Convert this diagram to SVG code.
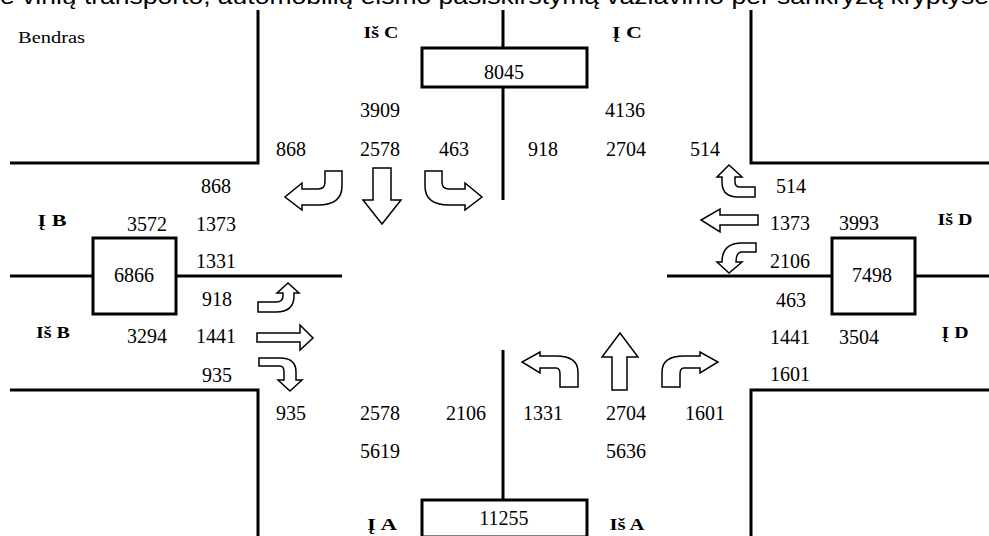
<svg xmlns="http://www.w3.org/2000/svg" width="989" height="536" viewBox="0 0 989 536">
<style>
.road{stroke:#000;stroke-width:3;fill:none}
.box{stroke:#000;stroke-width:3;fill:#fff}
.arr{stroke:#000;stroke-width:1.5;fill:#fff;stroke-linejoin:miter}
.n{font-family:"Liberation Serif","Times New Roman",serif;font-size:20px;fill:#000;text-anchor:middle}
.lb{font-family:"Liberation Serif","Times New Roman",serif;font-size:17px;font-weight:bold;fill:#000;text-anchor:middle}
.cap{font-family:"Liberation Sans",Arial,sans-serif;font-size:22px;fill:#000}
</style>
<rect width="989" height="536" fill="#fff"/>
<text class="cap" x="0" y="4" textLength="989" lengthAdjust="spacingAndGlyphs">e vinių transporto, automobilių eismo pasiskirstymą važiavimo per sankryžą kryptyse</text>
<g id="roads">
<path class="road" d="M258,10 V163 H10"/>
<path class="road" d="M751,10 V163 H989"/>
<path class="road" d="M10,390 H258 V536"/>
<path class="road" d="M989,390 H751 V536"/>
<path class="road" d="M503,10 V48 M503,87 V200"/>
<path class="road" d="M10,276 H93 M176,276 H342"/>
<path class="road" d="M667,276 H832 M915,276 H989"/>
<path class="road" d="M503,350 V500"/>
</g>
<g id="node-C"><rect class="box" x="422" y="48" width="165" height="39"/><text class="n" x="504" y="79">8045</text></g>
<g id="node-B"><rect class="box" x="93" y="238" width="83" height="76"/><text class="n" x="134" y="282">6866</text></g>
<g id="node-D"><rect class="box" x="832" y="238" width="83" height="76"/><text class="n" x="872" y="282">7498</text></g>
<g id="node-A"><rect class="box" x="422" y="500" width="165" height="37"/><text class="n" x="504" y="525">11255</text></g>
<g id="connectors">
<path class="arr" d="M325,171 L342,171 L342,186 Q342,205 318,205 L302,205 L302,210 L285,197 L302,183 L302,189 L318,189 Q325,189 325,182 Z"/>
<path class="arr" d="M373,168 L391,168 L391,200 L401,200 L382,224 L363,200 L373,200 Z"/>
<path class="arr" d="M442,171 L425,171 L425,186 Q425,205 449,205 L465,205 L465,210 L482,197 L465,183 L465,189 L449,189 Q442,189 442,182 Z"/>
<path class="arr" d="M755,187 L755,197 L738,197 Q722,197 722,182 L722,177 L717,177 L729,165 L742,177 L735,177 L735,182 Q735,187 740,187 Z"/>
<path class="arr" d="M758,215 L758,225 L720,225 L720,232 L701,220 L720,209 L720,215 Z"/>
<path class="arr" d="M756,243 L756,252 L742,252 Q736,252 736,262 L742,262 L729,273 L717,262 L722,262 Q722,243 742,243 Z"/>
<path class="arr" d="M258,302 L258,312 L276,312 Q294,312 294,296 L294,293 L299,293 L288,283 L277,293 L283,293 L283,296 Q283,302 276,302 Z"/>
<path class="arr" d="M257,333 L257,342 L300,342 L300,350 L313,338 L300,325 L300,333 Z"/>
<path class="arr" d="M259,358 L259,366 L280,366 Q284,366 284,372 L284,380 L278,380 L290,391 L302,380 L296,380 L296,372 Q296,358 280,358 Z"/>
<path class="arr" d="M560,387 L578,387 L578,372 Q578,356 556,356 L540,356 L540,352 L522,362 L540,373 L540,368 L556,368 Q560,368 560,374 Z"/>
<path class="arr" d="M612,390 L627,390 L627,357 L638,357 L620,333 L602,357 L612,357 Z"/>
<path class="arr" d="M680,387 L662,387 L662,372 Q662,356 684,356 L700,356 L700,352 L718,362 L700,373 L700,368 L684,368 Q680,368 680,374 Z"/>
</g>
<g id="labels">
<text x="18" y="43" font-family="Liberation Serif, serif" font-size="16" textLength="67" lengthAdjust="spacingAndGlyphs">Bendras</text>
<text class="lb" x="381" y="38" textLength="35" lengthAdjust="spacingAndGlyphs">Iš C</text>
<text class="lb" x="627" y="38" textLength="30" lengthAdjust="spacingAndGlyphs">Į C</text>
<text class="n" x="380" y="117">3909</text>
<text class="n" x="625" y="117">4136</text>
<text class="n" x="291" y="156">868</text>
<text class="n" x="380" y="156">2578</text>
<text class="n" x="454" y="156">463</text>
<text class="n" x="543" y="156">918</text>
<text class="n" x="626" y="156">2704</text>
<text class="n" x="705" y="156">514</text>
<text class="n" x="216" y="193">868</text>
<text class="lb" x="52" y="226" textLength="29" lengthAdjust="spacingAndGlyphs">Į B</text>
<text class="n" x="147" y="231">3572</text>
<text class="n" x="216" y="231">1373</text>
<text class="n" x="216" y="268">1331</text>
<text class="n" x="217" y="306">918</text>
<text class="lb" x="53" y="338" textLength="34" lengthAdjust="spacingAndGlyphs">Iš B</text>
<text class="n" x="147" y="343">3294</text>
<text class="n" x="216" y="343">1441</text>
<text class="n" x="217" y="382">935</text>
<text class="n" x="791" y="193">514</text>
<text class="n" x="790" y="230">1373</text>
<text class="n" x="859" y="230">3993</text>
<text class="lb" x="955" y="225" textLength="35" lengthAdjust="spacingAndGlyphs">Iš D</text>
<text class="n" x="790" y="268">2106</text>
<text class="n" x="791" y="307">463</text>
<text class="n" x="790" y="344">1441</text>
<text class="n" x="859" y="344">3504</text>
<text class="lb" x="955" y="338" textLength="27" lengthAdjust="spacingAndGlyphs">Į D</text>
<text class="n" x="790" y="381">1601</text>
<text class="n" x="291" y="420">935</text>
<text class="n" x="380" y="420">2578</text>
<text class="n" x="466" y="420">2106</text>
<text class="n" x="543" y="420">1331</text>
<text class="n" x="626" y="420">2704</text>
<text class="n" x="705" y="420">1601</text>
<text class="n" x="380" y="458">5619</text>
<text class="n" x="626" y="458">5636</text>
<text class="lb" x="382" y="530" textLength="30" lengthAdjust="spacingAndGlyphs">Į A</text>
<text class="lb" x="627" y="530" textLength="35" lengthAdjust="spacingAndGlyphs">Iš A</text>
</g>
</svg>
